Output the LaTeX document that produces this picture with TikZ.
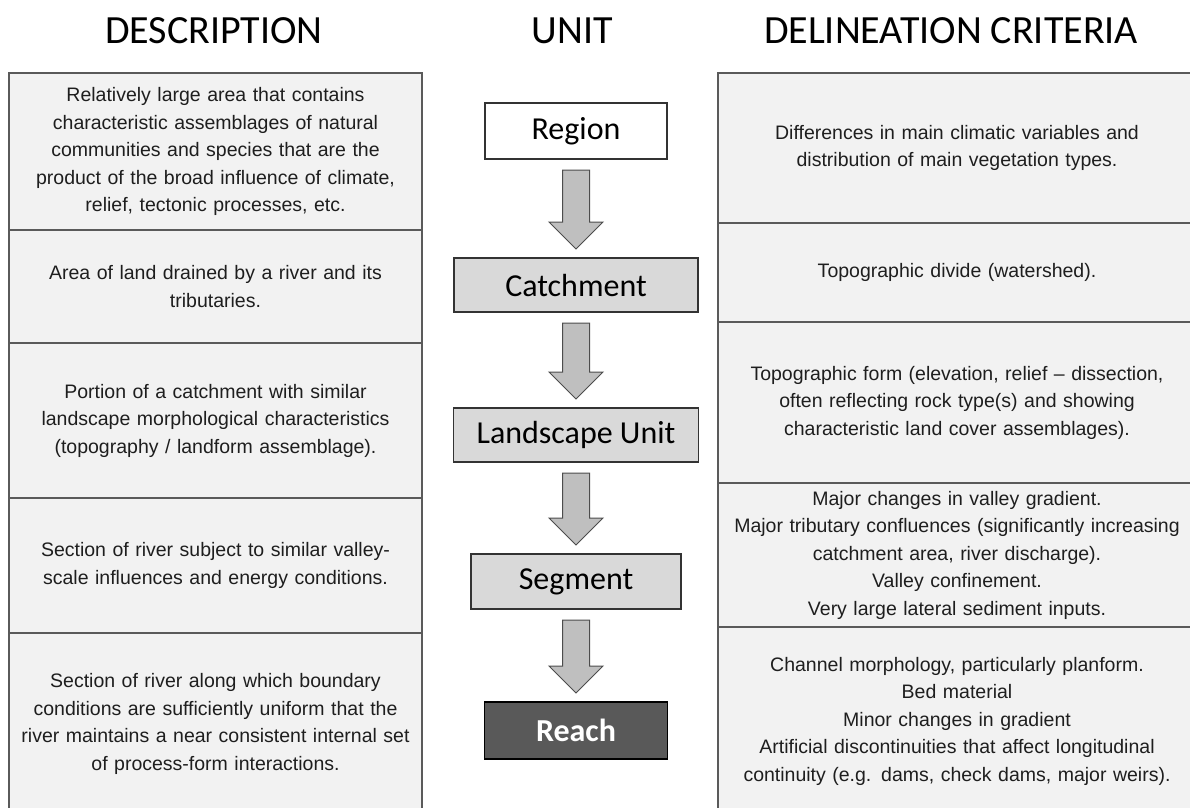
\documentclass[tikz,border=0pt]{standalone}
\usepackage{fontspec}
\setmainfont{Carlito}
\newfontfamily\bodyfont{Liberation Sans}
\usepackage{tikz}
\usetikzlibrary{positioning}
\usetikzlibrary{calc}
\usepackage{xcolor}
\definecolor{cellfill}{HTML}{F2F2F2}
\definecolor{cellline}{HTML}{5A5A5A}
\definecolor{celltext}{HTML}{1E1E1E}
\definecolor{unitfill}{HTML}{D9D9D9}
\definecolor{reachfill}{HTML}{595959}
\definecolor{arrfill}{HTML}{BFBFBF}

\newcommand{\flowarrow}[2]{%
  \path[flowarr] let \p1=($(#1.south)+(0,-11pt)$), \p2=($(#2.north)+(0,9pt)$) in
    (\x1-13.5pt,\y1) -- (\x1+13.5pt,\y1) -- (\x1+13.5pt,\y2+27pt) -- (\x1+27pt,\y2+27pt)
    -- (\x1,\y2) -- (\x1-27pt,\y2+27pt) -- (\x1-13.5pt,\y2+27pt) -- cycle;}

\begin{document}
\begin{tikzpicture}[x=1pt, y=-1pt,
    head/.style={inner sep=0, outer sep=0, anchor=base, font=\fontsize{40}{42}\selectfont},
    cellbox/.style={draw=cellline, line width=2pt, fill=cellfill, inner sep=2pt, outer sep=0, align=center,
        text=celltext, font=\bodyfont\fontsize{19.5}{27.5}\selectfont},
    leftcell/.style={cellbox, minimum width=413pt, text width=405pt},
    rightcell/.style={cellbox, minimum width=478pt, text width=470pt},
    unitbox/.style={draw=black!80, line width=1.2pt, fill=unitfill, outer sep=0, inner sep=0,
        font=\fontsize{32}{34}\selectfont},
    flowarr/.style={draw=black!70, line width=1pt, fill=arrfill},
    node distance=0pt]
		\useasboundingbox (0,0) rectangle (1190,807);

		%Nodes
		\node[head] (hdesc) at (214,43) {DESCRIPTION};
		\node[head] (hunit) at (572,43) {UNIT};
		\node[head] (hcrit) at (951,43) {DELINEATION CRITERIA};

		\node[leftcell, minimum height=157pt, anchor=north west] (d1) at (9,73) {Relatively large area that contains\\characteristic assemblages of natural\\communities and species that are the\\product of the broad influence of climate,\\relief, tectonic processes, etc.};
		\node[leftcell, minimum height=113pt] (d2) [below=of d1] {Area of land drained by a river and its\\tributaries.};
		\node[leftcell, minimum height=155pt] (d3) [below=of d2] {Portion of a catchment with similar\\landscape morphological characteristics\\(topography / landform assemblage).};
		\node[leftcell, minimum height=135pt] (d4) [below=of d3] {Section of river subject to similar valley-\\scale influences and energy conditions.};
		\node[leftcell, minimum height=182pt] (d5) [below=of d4] {Section of river along which boundary\\conditions are sufficiently uniform that the\\river maintains a near consistent internal set\\of process-form interactions.};

		\node[rightcell, minimum height=150pt, anchor=north west] (c1) at (718,73) {Differences in main climatic variables and\\distribution of main vegetation types.};
		\node[rightcell, minimum height=99pt] (c2) [below=of c1] {Topographic divide (watershed).};
		\node[rightcell, minimum height=161pt] (c3) [below=of c2] {Topographic form (elevation, relief – dissection,\\often reflecting rock type(s) and showing\\characteristic land cover assemblages).};
		\node[rightcell, minimum height=144pt] (c4) [below=of c3] {Major changes in valley gradient.\\Major tributary confluences (significantly increasing\\catchment area, river discharge).\\Valley confinement.\\Very large lateral sediment inputs.};
		\node[rightcell, minimum height=188pt] (c5) [below=of c4] {Channel morphology, particularly planform.\\Bed material\\Minor changes in gradient\\Artificial discontinuities that affect longitudinal\\continuity (e.g. dams, check dams, major weirs).};

		\node[unitbox, fill=white, minimum width=182pt, minimum height=56pt] (region) at (576,131) {Region};
		\node[unitbox, minimum width=244pt, minimum height=54pt] (catch) [below=99pt of region] {Catchment};
		\node[unitbox, minimum width=245pt, minimum height=54pt] (land) [below=96pt of catch] {Landscape Unit};
		\node[unitbox, minimum width=210pt, minimum height=55pt] (seg) [below=92pt of land] {Segment};
		\node[unitbox, draw=black, fill=reachfill, text=white, font=\fontsize{32}{34}\selectfont\bfseries, minimum width=183pt, minimum height=57pt] (reach) [below=93pt of seg] {Reach};

		%Lines
		\flowarrow{region}{catch}
		\flowarrow{catch}{land}
		\flowarrow{land}{seg}
		\flowarrow{seg}{reach}
	\end{tikzpicture}
\end{document}
